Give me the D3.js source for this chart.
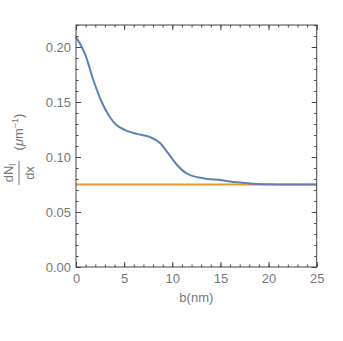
<!DOCTYPE html>
<html><head><meta charset="utf-8">
<script src="https://cdn.jsdelivr.net/npm/d3@7"></script>
<style>body{margin:0;background:#fff}svg{display:block}text{font-family:"Liberation Sans",Arial,sans-serif}</style>
</head><body>
<script>
const bValues = [0, 0.93, 1.8, 2.67, 3.46, 4.2, 5.1, 6.3, 7.7, 8.7, 9.6, 10.5, 11.5, 13.2, 15, 16.7, 18.4, 20, 22, 25];
const dNdx = [0.209, 0.194, 0.170, 0.150, 0.137, 0.129, 0.1245, 0.121, 0.118, 0.113, 0.103, 0.0927, 0.085, 0.0806, 0.079, 0.077, 0.0757, 0.0752, 0.075, 0.075];
const constLevel = [0.075, 0.075];
const constB = [0, 25];
const xTicks = [0, 5, 10, 15, 20, 25];
const yTicks = [0, 0.05, 0.10, 0.15, 0.20];

const W = 343, H = 341;
const L = 76, R = 316.7, T = 25, B = 267;
const svg = d3.select("body").append("svg").attr("width", W).attr("height", H);
const x = d3.scaleLinear().domain([0, 25]).range([L, R]);
const y = d3.scaleLinear().domain([0, 0.22]).range([B, T]);
const frame = "#444", labelCol = "#777";

// lines
const line = d3.line().x(d => x(d[0])).y(d => y(d[1])).curve(d3.curveMonotoneX);
svg.append("path").datum(constB.map((b, i) => [b, constLevel[i]]))
  .attr("d", line).attr("fill", "none").attr("stroke", "#E19C24").attr("stroke-width", 2);
svg.append("path").datum(bValues.map((b, i) => [b, dNdx[i]]))
  .attr("d", line).attr("fill", "none").attr("stroke", "#5E81B5").attr("stroke-width", 2);

// frame
svg.append("rect").attr("x", L).attr("y", T).attr("width", R - L).attr("height", B - T)
  .attr("fill", "none").attr("stroke", frame).attr("stroke-width", 1);

// axes
const xMinor = d3.range(0, 26, 1);
const yMinor = d3.range(0, 0.2201, 0.01);
function addAxis(axis, transform) {
  const g = svg.append("g").attr("transform", transform).call(axis);
  g.select(".domain").remove();
  g.selectAll("line").attr("stroke", frame);
  g.selectAll("text").attr("fill", labelCol).attr("font-size", 13);
  return g;
}
addAxis(d3.axisBottom(x).tickValues(xMinor).tickSize(-2.5).tickFormat(""), `translate(0,${B})`);
addAxis(d3.axisBottom(x).tickValues(xTicks).tickSize(-5).tickPadding(7).tickFormat(d3.format("d")), `translate(0,${B})`);
addAxis(d3.axisTop(x).tickValues(xMinor).tickSize(-2.5).tickFormat(""), `translate(0,${T})`);
addAxis(d3.axisTop(x).tickValues(xTicks).tickSize(-5).tickFormat(""), `translate(0,${T})`);
addAxis(d3.axisLeft(y).tickValues(yMinor).tickSize(-2.5).tickFormat(""), `translate(${L},0)`);
addAxis(d3.axisLeft(y).tickValues(yTicks).tickSize(-5).tickPadding(5).tickFormat(d3.format(".2f")), `translate(${L},0)`);
addAxis(d3.axisRight(y).tickValues(yMinor).tickSize(-2.5).tickFormat(""), `translate(${R},0)`);
addAxis(d3.axisRight(y).tickValues(yTicks).tickSize(-5).tickFormat(""), `translate(${R},0)`);

svg.append("text").attr("x", (L + R) / 2).attr("y", 302).attr("text-anchor", "middle")
  .attr("fill", labelCol).attr("font-size", 13).text("b(nm)");

const yl = svg.append("g").attr("transform", "translate(20,146) rotate(-90)");
const fx = -27;
yl.append("text").attr("x", fx).attr("y", -7).attr("text-anchor", "middle").attr("fill", labelCol).attr("font-size", 13)
  .html('dN<tspan font-size="9" dy="3">l</tspan>');
yl.append("line").attr("x1", fx - 12).attr("x2", fx + 12).attr("y1", -1).attr("y2", -1).attr("stroke", labelCol).attr("stroke-width", 1);
yl.append("text").attr("x", fx).attr("y", 14).attr("text-anchor", "middle").attr("fill", labelCol).attr("font-size", 13).text("dx");
yl.append("text").attr("x", 14).attr("y", 3).attr("text-anchor", "middle").attr("fill", labelCol).attr("font-size", 13)
  .html('(<tspan font-style="italic">μ</tspan>m<tspan font-size="9" dy="-5">−1</tspan><tspan dy="5">)</tspan>');
</script>
</body></html>
